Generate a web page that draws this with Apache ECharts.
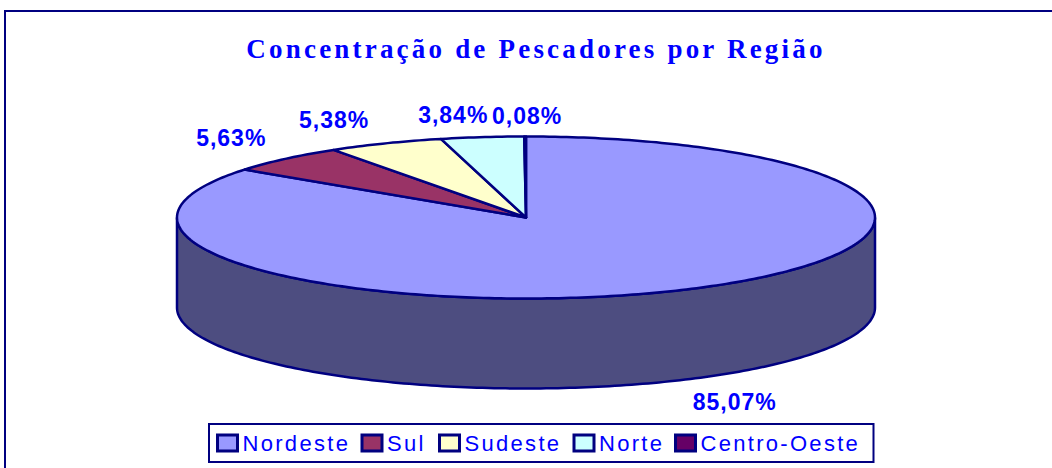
<!DOCTYPE html>
<html>
<head>
<meta charset="utf-8">
<style>
  body { margin: 0; background: #fff; }
  #main { width: 1052px; height: 468px; }
  /* zrender has no letter spacing, the svg renderer lets css do it */
  #main svg text[style*="27px"] { letter-spacing: 3.2px; }
  #main svg text[style*="22px"] { letter-spacing: 2.3px; }
  #main svg text[style*="23px"] { letter-spacing: 1px; }
</style>
<script src="https://cdn.jsdelivr.net/npm/echarts@6/dist/echarts.min.js"></script>
</head>
<body>
<div id="main"></div>
<script>
const regions = ['Nordeste', 'Sul', 'Sudeste', 'Norte', 'Centro-Oeste']
const shares = [85.07, 5.63, 5.38, 3.84, 0.08]
const shareLabels = ['85,07%', '5,63%', '5,38%', '3,84%', '0,08%']
const colors = ['#9999ff', '#993366', '#ffffcc', '#ccffff', '#660066']
const legendTextWidths = [104, 37, 94, 61, 159]
const labelOffsets = [[51, 22], [-54, -21], [-51, -23], [-29, -22], [2, -21]]

const navy = '#000080'
const blue = '#0000ff'
const pie = { cx: 526, cy: 217.5, rx: 349, ry: 81, depth: 90 }
const total = shares.reduce((a, b) => a + b, 0)

// angle is clockwise from twelve o'clock, the pie is a flattened circle
function rimPoint (angle, drop) {
  return [
    pie.cx + pie.rx * Math.sin(angle),
    pie.cy - pie.ry * Math.cos(angle) + (drop || 0)
  ]
}

function arc (from, to, drop) {
  const steps = Math.max(2, Math.ceil(Math.abs(to - from) * 60))
  const points = []
  for (let i = 0; i <= steps; i++) {
    points.push(rimPoint(from + (to - from) * i / steps, drop))
  }
  return points
}

function shade (hex) {
  const n = parseInt(hex.slice(1), 16)
  const half = v => Math.round(v / 2)
  return 'rgb(' + half(n >> 16) + ',' + half((n >> 8) & 255) + ',' + half(n & 255) + ')'
}

function renderSlice (index) {
  return function (params, api) {
    const value = api.value(0)
    const before = shares.slice(0, index).reduce((a, b) => a + b, 0)
    const from = before / total * Math.PI * 2
    const to = (before + value) / total * Math.PI * 2
    const mid = (from + to) / 2
    const children = []

    // only the front half of the rim has a visible wall
    const wallFrom = Math.max(from, Math.PI / 2)
    const wallTo = Math.min(to, Math.PI * 1.5)
    if (wallTo > wallFrom) {
      children.push({
        type: 'polygon',
        shape: { points: arc(wallFrom, wallTo, 0).concat(arc(wallTo, wallFrom, pie.depth)) },
        style: { fill: shade(colors[index]), stroke: navy, lineWidth: 2.5 }
      })
    }

    children.push({
      type: 'polygon',
      shape: { points: [[pie.cx, pie.cy]].concat(arc(from, to, 0)) },
      style: { fill: colors[index], stroke: navy, lineWidth: 2.5, lineJoin: 'round' }
    })

    const anchor = rimPoint(mid, wallTo > wallFrom ? pie.depth : 0)
    children.push({
      type: 'text',
      x: anchor[0] + labelOffsets[index][0],
      y: anchor[1] + labelOffsets[index][1],
      style: {
        text: shareLabels[index],
        fill: blue,
        font: 'bold 23px "Liberation Sans", Arial, sans-serif',
        align: 'center',
        verticalAlign: 'middle'
      }
    })
    return { type: 'group', children }
  }
}

const chart = echarts.init(document.getElementById('main'), null, { renderer: 'svg' })

chart.setOption({
  animation: false,
  title: {
    text: 'Concentração de Pescadores por Região',
    left: 536,
    top: 35,
    textAlign: 'center',
    padding: 0,
    textStyle: {
      color: blue,
      fontFamily: '"Liberation Serif", "Times New Roman", serif',
      fontSize: 27,
      fontWeight: 'bold'
    }
  },
  legend: {
    left: 209,
    top: 424,
    orient: 'horizontal',
    icon: 'rect',
    itemWidth: 20,
    itemHeight: 16,
    itemGap: 14,
    padding: [8, 14, 8, 7],
    backgroundColor: '#fff',
    borderColor: navy,
    borderWidth: 2,
    selectedMode: false,
    itemStyle: { borderColor: navy, borderWidth: 3 },
    textStyle: {
      color: blue,
      fontFamily: '"Liberation Sans", Arial, sans-serif',
      fontSize: 22,
      lineHeight: 22
    },
    data: regions.map((name, i) => ({
      name,
      textStyle: { width: legendTextWidths[i], overflow: 'none' }
    }))
  },
  graphic: [
    {
      type: 'polyline',
      silent: true,
      shape: { points: [[5, 468], [5, 11], [1052, 11]] },
      style: { fill: 'none', stroke: navy, lineWidth: 2 }
    }
  ],
  series: regions.map((name, i) => ({
    type: 'custom',
    name,
    coordinateSystem: 'none',
    itemStyle: { color: colors[i] },
    renderItem: renderSlice(i),
    data: [[shares[i]]]
  }))
})

window.addEventListener('resize', () => chart.resize())
</script>
</body>
</html>
